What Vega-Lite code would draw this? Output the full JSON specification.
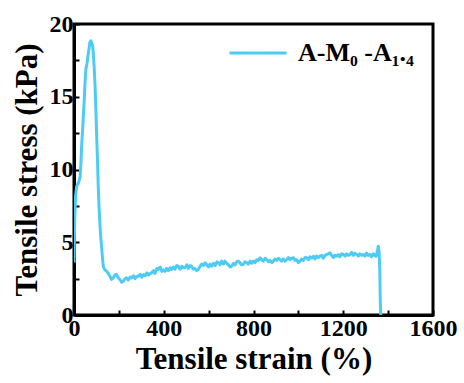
{
  "$schema": "https://vega.github.io/schema/vega-lite/v6.json",
  "width": 359,
  "height": 291,
  "autosize": {"type": "none"},
  "padding": {"left": 74, "top": 24, "right": 31, "bottom": 68},
  "background": "white",
  "config": {
    "font": "Liberation Serif",
    "view": {"stroke": "black", "strokeWidth": 3},
    "style": {
      "guide-label": {"font": "Liberation Serif", "fontWeight": "bold"},
      "guide-title": {"font": "Liberation Serif", "fontWeight": "bold"}
    },
    "axis": {
      "labelFont": "Liberation Serif",
      "labelFontWeight": "bold",
      "labelFontSize": 24,
      "labelColor": "black",
      "titleFont": "Liberation Serif",
      "titleFontWeight": "bold",
      "titleFontSize": 31,
      "titleColor": "black",
      "domainColor": "black",
      "domainWidth": 3,
      "tickColor": "black",
      "tickWidth": 2,
      "tickSize": -5,
      "grid": false,
      "labelOverlap": false,
      "labelFlush": false
    },
    "legend": {
      "labelFont": "Liberation Serif",
      "labelFontWeight": "bold",
      "labelFontSize": 26,
      "labelColor": "black"
    }
  },
  "data": {
    "values": [
      {"strain": 0, "stress": 3.6, "series": "A-M₀ -A₁.₄"},
      {"strain": 3, "stress": 6.5, "series": "A-M₀ -A₁.₄"},
      {"strain": 7, "stress": 8.2, "series": "A-M₀ -A₁.₄"},
      {"strain": 12, "stress": 8.85, "series": "A-M₀ -A₁.₄"},
      {"strain": 20, "stress": 9.1, "series": "A-M₀ -A₁.₄"},
      {"strain": 27, "stress": 9.45, "series": "A-M₀ -A₁.₄"},
      {"strain": 31, "stress": 10.5, "series": "A-M₀ -A₁.₄"},
      {"strain": 34, "stress": 11.6, "series": "A-M₀ -A₁.₄"},
      {"strain": 40, "stress": 13.2, "series": "A-M₀ -A₁.₄"},
      {"strain": 45, "stress": 14.6, "series": "A-M₀ -A₁.₄"},
      {"strain": 49, "stress": 15.9, "series": "A-M₀ -A₁.₄"},
      {"strain": 53, "stress": 16.9, "series": "A-M₀ -A₁.₄"},
      {"strain": 58, "stress": 17.3, "series": "A-M₀ -A₁.₄"},
      {"strain": 64, "stress": 18.0, "series": "A-M₀ -A₁.₄"},
      {"strain": 68, "stress": 18.4, "series": "A-M₀ -A₁.₄"},
      {"strain": 71, "stress": 18.75, "series": "A-M₀ -A₁.₄"},
      {"strain": 75, "stress": 18.85, "series": "A-M₀ -A₁.₄"},
      {"strain": 79, "stress": 18.7, "series": "A-M₀ -A₁.₄"},
      {"strain": 83, "stress": 18.5, "series": "A-M₀ -A₁.₄"},
      {"strain": 86, "stress": 18.0, "series": "A-M₀ -A₁.₄"},
      {"strain": 90, "stress": 17.0, "series": "A-M₀ -A₁.₄"},
      {"strain": 94, "stress": 15.7, "series": "A-M₀ -A₁.₄"},
      {"strain": 98, "stress": 13.9, "series": "A-M₀ -A₁.₄"},
      {"strain": 101, "stress": 12.3, "series": "A-M₀ -A₁.₄"},
      {"strain": 105, "stress": 10.5, "series": "A-M₀ -A₁.₄"},
      {"strain": 108, "stress": 8.85, "series": "A-M₀ -A₁.₄"},
      {"strain": 112, "stress": 7.3, "series": "A-M₀ -A₁.₄"},
      {"strain": 116, "stress": 6.1, "series": "A-M₀ -A₁.₄"},
      {"strain": 120, "stress": 5.2, "series": "A-M₀ -A₁.₄"},
      {"strain": 123, "stress": 4.7, "series": "A-M₀ -A₁.₄"},
      {"strain": 127, "stress": 3.9, "series": "A-M₀ -A₁.₄"},
      {"strain": 131, "stress": 3.3, "series": "A-M₀ -A₁.₄"},
      {"strain": 138, "stress": 3.1, "series": "A-M₀ -A₁.₄"},
      {"strain": 146, "stress": 3.0, "series": "A-M₀ -A₁.₄"},
      {"strain": 153, "stress": 2.85, "series": "A-M₀ -A₁.₄"},
      {"strain": 160, "stress": 2.67, "series": "A-M₀ -A₁.₄"},
      {"strain": 167, "stress": 2.45, "series": "A-M₀ -A₁.₄"},
      {"strain": 175, "stress": 2.55, "series": "A-M₀ -A₁.₄"},
      {"strain": 182, "stress": 2.75, "series": "A-M₀ -A₁.₄"},
      {"strain": 190, "stress": 2.78, "series": "A-M₀ -A₁.₄"},
      {"strain": 197, "stress": 2.55, "series": "A-M₀ -A₁.₄"},
      {"strain": 205, "stress": 2.44, "series": "A-M₀ -A₁.₄"},
      {"strain": 212, "stress": 2.25, "series": "A-M₀ -A₁.₄"},
      {"strain": 220, "stress": 2.32, "series": "A-M₀ -A₁.₄"},
      {"strain": 227, "stress": 2.5, "series": "A-M₀ -A₁.₄"},
      {"strain": 235, "stress": 2.55, "series": "A-M₀ -A₁.₄"},
      {"strain": 242, "stress": 2.4, "series": "A-M₀ -A₁.₄"},
      {"strain": 250, "stress": 2.6, "series": "A-M₀ -A₁.₄"},
      {"strain": 257, "stress": 2.55, "series": "A-M₀ -A₁.₄"},
      {"strain": 265, "stress": 2.7, "series": "A-M₀ -A₁.₄"},
      {"strain": 272, "stress": 2.5, "series": "A-M₀ -A₁.₄"},
      {"strain": 280, "stress": 2.65, "series": "A-M₀ -A₁.₄"},
      {"strain": 287, "stress": 2.67, "series": "A-M₀ -A₁.₄"},
      {"strain": 295, "stress": 2.8, "series": "A-M₀ -A₁.₄"},
      {"strain": 302, "stress": 2.6, "series": "A-M₀ -A₁.₄"},
      {"strain": 310, "stress": 2.78, "series": "A-M₀ -A₁.₄"},
      {"strain": 318, "stress": 2.7, "series": "A-M₀ -A₁.₄"},
      {"strain": 325, "stress": 2.9, "series": "A-M₀ -A₁.₄"},
      {"strain": 332, "stress": 2.75, "series": "A-M₀ -A₁.₄"},
      {"strain": 340, "stress": 2.85, "series": "A-M₀ -A₁.₄"},
      {"strain": 346, "stress": 2.9, "series": "A-M₀ -A₁.₄"},
      {"strain": 354, "stress": 3.05, "series": "A-M₀ -A₁.₄"},
      {"strain": 361, "stress": 2.85, "series": "A-M₀ -A₁.₄"},
      {"strain": 369, "stress": 3.2, "series": "A-M₀ -A₁.₄"},
      {"strain": 376, "stress": 3.13, "series": "A-M₀ -A₁.₄"},
      {"strain": 384, "stress": 3.3, "series": "A-M₀ -A₁.₄"},
      {"strain": 391, "stress": 3.0, "series": "A-M₀ -A₁.₄"},
      {"strain": 398, "stress": 3.1, "series": "A-M₀ -A₁.₄"},
      {"strain": 405, "stress": 3.0, "series": "A-M₀ -A₁.₄"},
      {"strain": 413, "stress": 3.2, "series": "A-M₀ -A₁.₄"},
      {"strain": 420, "stress": 3.05, "series": "A-M₀ -A₁.₄"},
      {"strain": 428, "stress": 3.25, "series": "A-M₀ -A₁.₄"},
      {"strain": 435, "stress": 3.13, "series": "A-M₀ -A₁.₄"},
      {"strain": 443, "stress": 3.3, "series": "A-M₀ -A₁.₄"},
      {"strain": 450, "stress": 3.15, "series": "A-M₀ -A₁.₄"},
      {"strain": 458, "stress": 3.4, "series": "A-M₀ -A₁.₄"},
      {"strain": 465, "stress": 3.35, "series": "A-M₀ -A₁.₄"},
      {"strain": 473, "stress": 3.15, "series": "A-M₀ -A₁.₄"},
      {"strain": 480, "stress": 3.35, "series": "A-M₀ -A₁.₄"},
      {"strain": 488, "stress": 3.25, "series": "A-M₀ -A₁.₄"},
      {"strain": 495, "stress": 3.24, "series": "A-M₀ -A₁.₄"},
      {"strain": 503, "stress": 3.45, "series": "A-M₀ -A₁.₄"},
      {"strain": 510, "stress": 3.2, "series": "A-M₀ -A₁.₄"},
      {"strain": 518, "stress": 3.4, "series": "A-M₀ -A₁.₄"},
      {"strain": 524, "stress": 3.35, "series": "A-M₀ -A₁.₄"},
      {"strain": 532, "stress": 3.15, "series": "A-M₀ -A₁.₄"},
      {"strain": 539, "stress": 3.2, "series": "A-M₀ -A₁.₄"},
      {"strain": 547, "stress": 3.05, "series": "A-M₀ -A₁.₄"},
      {"strain": 554, "stress": 3.13, "series": "A-M₀ -A₁.₄"},
      {"strain": 562, "stress": 3.35, "series": "A-M₀ -A₁.₄"},
      {"strain": 569, "stress": 3.5, "series": "A-M₀ -A₁.₄"},
      {"strain": 577, "stress": 3.4, "series": "A-M₀ -A₁.₄"},
      {"strain": 584, "stress": 3.59, "series": "A-M₀ -A₁.₄"},
      {"strain": 592, "stress": 3.45, "series": "A-M₀ -A₁.₄"},
      {"strain": 599, "stress": 3.3, "series": "A-M₀ -A₁.₄"},
      {"strain": 607, "stress": 3.5, "series": "A-M₀ -A₁.₄"},
      {"strain": 614, "stress": 3.35, "series": "A-M₀ -A₁.₄"},
      {"strain": 622, "stress": 3.55, "series": "A-M₀ -A₁.₄"},
      {"strain": 629, "stress": 3.4, "series": "A-M₀ -A₁.₄"},
      {"strain": 637, "stress": 3.65, "series": "A-M₀ -A₁.₄"},
      {"strain": 643, "stress": 3.59, "series": "A-M₀ -A₁.₄"},
      {"strain": 651, "stress": 3.45, "series": "A-M₀ -A₁.₄"},
      {"strain": 658, "stress": 3.7, "series": "A-M₀ -A₁.₄"},
      {"strain": 666, "stress": 3.5, "series": "A-M₀ -A₁.₄"},
      {"strain": 673, "stress": 3.7, "series": "A-M₀ -A₁.₄"},
      {"strain": 681, "stress": 3.55, "series": "A-M₀ -A₁.₄"},
      {"strain": 688, "stress": 3.45, "series": "A-M₀ -A₁.₄"},
      {"strain": 696, "stress": 3.3, "series": "A-M₀ -A₁.₄"},
      {"strain": 703, "stress": 3.35, "series": "A-M₀ -A₁.₄"},
      {"strain": 711, "stress": 3.55, "series": "A-M₀ -A₁.₄"},
      {"strain": 718, "stress": 3.45, "series": "A-M₀ -A₁.₄"},
      {"strain": 725, "stress": 3.65, "series": "A-M₀ -A₁.₄"},
      {"strain": 732, "stress": 3.7, "series": "A-M₀ -A₁.₄"},
      {"strain": 740, "stress": 3.59, "series": "A-M₀ -A₁.₄"},
      {"strain": 747, "stress": 3.45, "series": "A-M₀ -A₁.₄"},
      {"strain": 754, "stress": 3.47, "series": "A-M₀ -A₁.₄"},
      {"strain": 762, "stress": 3.65, "series": "A-M₀ -A₁.₄"},
      {"strain": 770, "stress": 3.59, "series": "A-M₀ -A₁.₄"},
      {"strain": 777, "stress": 3.5, "series": "A-M₀ -A₁.₄"},
      {"strain": 785, "stress": 3.7, "series": "A-M₀ -A₁.₄"},
      {"strain": 792, "stress": 3.55, "series": "A-M₀ -A₁.₄"},
      {"strain": 799, "stress": 3.7, "series": "A-M₀ -A₁.₄"},
      {"strain": 807, "stress": 3.6, "series": "A-M₀ -A₁.₄"},
      {"strain": 814, "stress": 3.8, "series": "A-M₀ -A₁.₄"},
      {"strain": 822, "stress": 3.75, "series": "A-M₀ -A₁.₄"},
      {"strain": 829, "stress": 3.93, "series": "A-M₀ -A₁.₄"},
      {"strain": 837, "stress": 3.8, "series": "A-M₀ -A₁.₄"},
      {"strain": 844, "stress": 3.7, "series": "A-M₀ -A₁.₄"},
      {"strain": 852, "stress": 3.9, "series": "A-M₀ -A₁.₄"},
      {"strain": 859, "stress": 3.81, "series": "A-M₀ -A₁.₄"},
      {"strain": 867, "stress": 3.65, "series": "A-M₀ -A₁.₄"},
      {"strain": 874, "stress": 3.75, "series": "A-M₀ -A₁.₄"},
      {"strain": 882, "stress": 3.6, "series": "A-M₀ -A₁.₄"},
      {"strain": 889, "stress": 3.7, "series": "A-M₀ -A₁.₄"},
      {"strain": 896, "stress": 3.85, "series": "A-M₀ -A₁.₄"},
      {"strain": 904, "stress": 3.75, "series": "A-M₀ -A₁.₄"},
      {"strain": 911, "stress": 3.9, "series": "A-M₀ -A₁.₄"},
      {"strain": 918, "stress": 3.81, "series": "A-M₀ -A₁.₄"},
      {"strain": 926, "stress": 3.7, "series": "A-M₀ -A₁.₄"},
      {"strain": 933, "stress": 3.85, "series": "A-M₀ -A₁.₄"},
      {"strain": 941, "stress": 3.7, "series": "A-M₀ -A₁.₄"},
      {"strain": 948, "stress": 3.81, "series": "A-M₀ -A₁.₄"},
      {"strain": 956, "stress": 3.95, "series": "A-M₀ -A₁.₄"},
      {"strain": 963, "stress": 3.8, "series": "A-M₀ -A₁.₄"},
      {"strain": 970, "stress": 3.9, "series": "A-M₀ -A₁.₄"},
      {"strain": 978, "stress": 3.93, "series": "A-M₀ -A₁.₄"},
      {"strain": 985, "stress": 3.75, "series": "A-M₀ -A₁.₄"},
      {"strain": 993, "stress": 3.8, "series": "A-M₀ -A₁.₄"},
      {"strain": 1000, "stress": 3.6, "series": "A-M₀ -A₁.₄"},
      {"strain": 1007, "stress": 3.7, "series": "A-M₀ -A₁.₄"},
      {"strain": 1015, "stress": 3.85, "series": "A-M₀ -A₁.₄"},
      {"strain": 1022, "stress": 3.75, "series": "A-M₀ -A₁.₄"},
      {"strain": 1030, "stress": 3.95, "series": "A-M₀ -A₁.₄"},
      {"strain": 1037, "stress": 3.93, "series": "A-M₀ -A₁.₄"},
      {"strain": 1045, "stress": 3.8, "series": "A-M₀ -A₁.₄"},
      {"strain": 1052, "stress": 4.0, "series": "A-M₀ -A₁.₄"},
      {"strain": 1059, "stress": 3.9, "series": "A-M₀ -A₁.₄"},
      {"strain": 1067, "stress": 4.04, "series": "A-M₀ -A₁.₄"},
      {"strain": 1074, "stress": 3.85, "series": "A-M₀ -A₁.₄"},
      {"strain": 1081, "stress": 4.05, "series": "A-M₀ -A₁.₄"},
      {"strain": 1089, "stress": 3.95, "series": "A-M₀ -A₁.₄"},
      {"strain": 1096, "stress": 4.04, "series": "A-M₀ -A₁.₄"},
      {"strain": 1104, "stress": 4.1, "series": "A-M₀ -A₁.₄"},
      {"strain": 1111, "stress": 3.9, "series": "A-M₀ -A₁.₄"},
      {"strain": 1119, "stress": 4.1, "series": "A-M₀ -A₁.₄"},
      {"strain": 1126, "stress": 4.16, "series": "A-M₀ -A₁.₄"},
      {"strain": 1133, "stress": 4.2, "series": "A-M₀ -A₁.₄"},
      {"strain": 1141, "stress": 4.27, "series": "A-M₀ -A₁.₄"},
      {"strain": 1148, "stress": 4.1, "series": "A-M₀ -A₁.₄"},
      {"strain": 1156, "stress": 3.95, "series": "A-M₀ -A₁.₄"},
      {"strain": 1163, "stress": 4.1, "series": "A-M₀ -A₁.₄"},
      {"strain": 1171, "stress": 4.04, "series": "A-M₀ -A₁.₄"},
      {"strain": 1178, "stress": 4.15, "series": "A-M₀ -A₁.₄"},
      {"strain": 1185, "stress": 4.0, "series": "A-M₀ -A₁.₄"},
      {"strain": 1193, "stress": 4.2, "series": "A-M₀ -A₁.₄"},
      {"strain": 1200, "stress": 4.16, "series": "A-M₀ -A₁.₄"},
      {"strain": 1208, "stress": 4.05, "series": "A-M₀ -A₁.₄"},
      {"strain": 1215, "stress": 4.2, "series": "A-M₀ -A₁.₄"},
      {"strain": 1222, "stress": 4.1, "series": "A-M₀ -A₁.₄"},
      {"strain": 1230, "stress": 4.16, "series": "A-M₀ -A₁.₄"},
      {"strain": 1237, "stress": 4.3, "series": "A-M₀ -A₁.₄"},
      {"strain": 1245, "stress": 4.1, "series": "A-M₀ -A₁.₄"},
      {"strain": 1252, "stress": 4.25, "series": "A-M₀ -A₁.₄"},
      {"strain": 1260, "stress": 4.16, "series": "A-M₀ -A₁.₄"},
      {"strain": 1267, "stress": 4.05, "series": "A-M₀ -A₁.₄"},
      {"strain": 1274, "stress": 4.2, "series": "A-M₀ -A₁.₄"},
      {"strain": 1282, "stress": 4.1, "series": "A-M₀ -A₁.₄"},
      {"strain": 1289, "stress": 4.16, "series": "A-M₀ -A₁.₄"},
      {"strain": 1297, "stress": 4.05, "series": "A-M₀ -A₁.₄"},
      {"strain": 1304, "stress": 4.25, "series": "A-M₀ -A₁.₄"},
      {"strain": 1311, "stress": 4.1, "series": "A-M₀ -A₁.₄"},
      {"strain": 1319, "stress": 4.16, "series": "A-M₀ -A₁.₄"},
      {"strain": 1326, "stress": 4.0, "series": "A-M₀ -A₁.₄"},
      {"strain": 1334, "stress": 4.2, "series": "A-M₀ -A₁.₄"},
      {"strain": 1341, "stress": 4.1, "series": "A-M₀ -A₁.₄"},
      {"strain": 1346, "stress": 4.04, "series": "A-M₀ -A₁.₄"},
      {"strain": 1351, "stress": 4.3, "series": "A-M₀ -A₁.₄"},
      {"strain": 1356, "stress": 4.73, "series": "A-M₀ -A₁.₄"},
      {"strain": 1360, "stress": 4.3, "series": "A-M₀ -A₁.₄"},
      {"strain": 1363, "stress": 3.0, "series": "A-M₀ -A₁.₄"},
      {"strain": 1365, "stress": 1.0, "series": "A-M₀ -A₁.₄"},
      {"strain": 1367, "stress": 0, "series": "A-M₀ -A₁.₄"}
    ]
  },
  "mark": {"type": "line", "strokeWidth": 3, "strokeJoin": "round", "clip": true},
  "encoding": {
    "x": {
      "field": "strain",
      "type": "quantitative",
      "scale": {"domain": [0, 1600], "nice": false},
      "axis": {
        "title": "Tensile strain (%)",
        "labelFont": "Liberation Serif",
        "titleFont": "Liberation Serif",
        "values": [0, 200, 400, 600, 800, 1000, 1200, 1400, 1600],
        "labelExpr": "datum.value % 400 == 0 ? datum.label : ''",
        "format": "d",
        "labelPadding": 6,
        "titlePadding": 4
      }
    },
    "y": {
      "field": "stress",
      "type": "quantitative",
      "scale": {"domain": [0, 20], "nice": false},
      "axis": {
        "title": "Tensile stress (kPa)",
        "labelFont": "Liberation Serif",
        "titleFont": "Liberation Serif",
        "values": [0, 2.5, 5, 7.5, 10, 12.5, 15, 17.5, 20],
        "labelExpr": "datum.value % 5 == 0 ? format(datum.value, 'd') : ''",
        "labelPadding": 6,
        "titlePadding": 6
      }
    },
    "color": {
      "field": "series",
      "type": "nominal",
      "scale": {"range": ["#4ccbf5"]},
      "legend": {
        "title": null,
        "orient": "none",
        "legendX": 154,
        "legendY": -1,
        "padding": 0,
        "symbolType": "stroke",
        "symbolSize": 3249,
        "symbolStrokeWidth": 3,
        "labelOffset": 10
      }
    }
  }
}
